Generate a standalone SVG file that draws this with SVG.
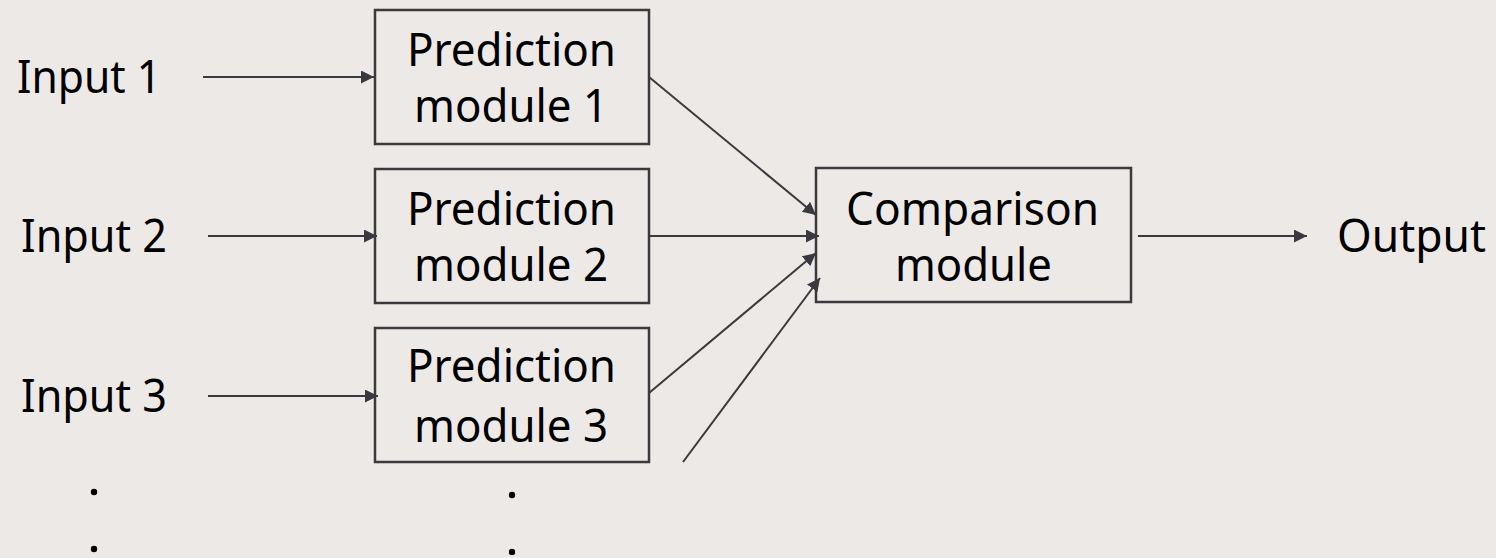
<svg xmlns="http://www.w3.org/2000/svg" width="1496" height="558" viewBox="0 0 1496 558">
<defs>
<style>
.bg{fill:#ede9e7}
.box{fill:none;stroke:#3a3a3e;stroke-width:2.5}
.t{font-family:"Noto Sans","Open Sans",sans-serif;font-size:45px;fill:#000}
.ln{stroke:#3a3a3e;stroke-width:2;fill:none;marker-end:url(#ah)}
.dot{fill:#000}
</style>
<marker id="ah" markerWidth="14" markerHeight="14" refX="13" refY="6.5" orient="auto" markerUnits="userSpaceOnUse">
<path d="M0,0 L13,6.5 L0,13 Z" fill="#3a3a3e"/>
</marker>
</defs>
<rect class="bg" x="0" y="0" width="1496" height="558"/>
<g id="input1"><text class="t" x="17" y="93" textLength="144" lengthAdjust="spacingAndGlyphs">Input 1</text></g>
<g id="input2"><text class="t" x="21" y="252" textLength="146" lengthAdjust="spacingAndGlyphs">Input 2</text></g>
<g id="input3"><text class="t" x="21" y="412" textLength="146" lengthAdjust="spacingAndGlyphs">Input 3</text></g>
<g id="pred1"><rect class="box" x="375" y="10" width="274" height="134"/>
<text class="t" x="407" y="66" textLength="209" lengthAdjust="spacingAndGlyphs">Prediction</text>
<text class="t" x="414" y="122" textLength="194" lengthAdjust="spacingAndGlyphs">module 1</text></g>
<g id="pred2"><rect class="box" x="375" y="169" width="274" height="134"/>
<text class="t" x="407" y="225" textLength="209" lengthAdjust="spacingAndGlyphs">Prediction</text>
<text class="t" x="414" y="281" textLength="194" lengthAdjust="spacingAndGlyphs">module 2</text></g>
<g id="pred3"><rect class="box" x="375" y="328" width="274" height="134"/>
<text class="t" x="407" y="382" textLength="209" lengthAdjust="spacingAndGlyphs">Prediction</text>
<text class="t" x="414" y="442" textLength="194" lengthAdjust="spacingAndGlyphs">module 3</text></g>
<g id="comparison"><rect class="box" x="816" y="168" width="315" height="134"/>
<text class="t" x="846" y="225" textLength="253" lengthAdjust="spacingAndGlyphs">Comparison</text>
<text class="t" x="895" y="281" textLength="157" lengthAdjust="spacingAndGlyphs">module</text></g>
<g id="output"><text class="t" x="1337" y="252" textLength="149" lengthAdjust="spacingAndGlyphs">Output</text></g>
<g id="dots">
<circle class="dot" cx="94" cy="492" r="3.2"/>
<circle class="dot" cx="94" cy="549" r="3.2"/>
<circle class="dot" cx="512" cy="495" r="3.2"/>
<circle class="dot" cx="512" cy="552" r="3.2"/>
</g>
<g id="connectors">
<line class="ln" x1="203" y1="77" x2="374" y2="77"/>
<line class="ln" x1="208" y1="236" x2="377" y2="236"/>
<line class="ln" x1="208" y1="396" x2="378" y2="396"/>
<line class="ln" x1="649" y1="77" x2="816" y2="215"/>
<line class="ln" x1="649" y1="236" x2="819" y2="236"/>
<line class="ln" x1="649" y1="393" x2="816" y2="253"/>
<line class="ln" x1="683" y1="462" x2="820" y2="278"/>
<line class="ln" x1="1138" y1="236" x2="1307" y2="236"/>
</g>
</svg>
